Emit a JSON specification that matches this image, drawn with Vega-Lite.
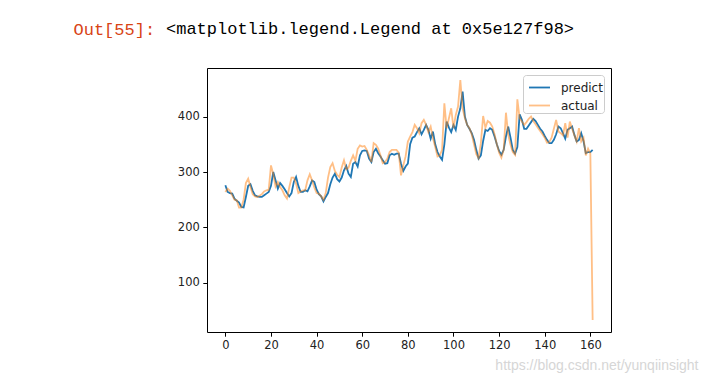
{
 "$schema": "https://vega.github.io/schema/vega-lite/v6.json",
 "width": 404,
 "height": 264,
 "autosize": {"type": "none"},
 "padding": {"left": 207, "top": 68, "right": 97, "bottom": 53},
 "background": "white",
 "title": {
  "text": "<matplotlib.legend.Legend at 0x5e127f98>",
  "anchor": "start",
  "frame": "group",
  "dx": -41,
  "offset": 0,
  "dy": 31,
  "baseline": "alphabetic",
  "font": "Liberation Mono",
  "fontSize": 17,
  "fontWeight": "normal",
  "color": "#000000"
 },
 "data": {"values": [
  {"i":0,"predict":276,"actual":264},{"i":1,"predict":264,"actual":270},{"i":2,"predict":262,"actual":266},{"i":3,"predict":261,"actual":258},
  {"i":4,"predict":252,"actual":250},{"i":5,"predict":248,"actual":249},{"i":6,"predict":245,"actual":236},{"i":7,"predict":237,"actual":236},
  {"i":8,"predict":236,"actual":250},{"i":9,"predict":255,"actual":280},{"i":10,"predict":275,"actual":288},{"i":11,"predict":278,"actual":273},
  {"i":12,"predict":266,"actual":260},{"i":13,"predict":258,"actual":256},{"i":14,"predict":256,"actual":255},{"i":15,"predict":255,"actual":257},
  {"i":16,"predict":255,"actual":260},{"i":17,"predict":258,"actual":265},{"i":18,"predict":261,"actual":267},{"i":19,"predict":264,"actual":268},
  {"i":20,"predict":275,"actual":312},{"i":21,"predict":300,"actual":296},{"i":22,"predict":285,"actual":274},{"i":23,"predict":270,"actual":282},
  {"i":24,"predict":280,"actual":273},{"i":25,"predict":275,"actual":267},{"i":26,"predict":269,"actual":258},{"i":27,"predict":262,"actual":252},
  {"i":28,"predict":256,"actual":272},{"i":29,"predict":262,"actual":290},{"i":30,"predict":282,"actual":290},{"i":31,"predict":291,"actual":279},
  {"i":32,"predict":275,"actual":262},{"i":33,"predict":264,"actual":265},{"i":34,"predict":264,"actual":267},{"i":35,"predict":267,"actual":267},
  {"i":36,"predict":265,"actual":285},{"i":37,"predict":274,"actual":296},{"i":38,"predict":285,"actual":285},{"i":39,"predict":282,"actual":272},
  {"i":40,"predict":268,"actual":262},{"i":41,"predict":260,"actual":261},{"i":42,"predict":256,"actual":256},{"i":43,"predict":247,"actual":250},
  {"i":44,"predict":255,"actual":262},{"i":45,"predict":262,"actual":290},{"i":46,"predict":278,"actual":309},{"i":47,"predict":290,"actual":316},
  {"i":48,"predict":297,"actual":302},{"i":49,"predict":287,"actual":295},{"i":50,"predict":283,"actual":291},{"i":51,"predict":290,"actual":308},
  {"i":52,"predict":303,"actual":321},{"i":53,"predict":311,"actual":305},{"i":54,"predict":297,"actual":308},{"i":55,"predict":291,"actual":320},
  {"i":56,"predict":315,"actual":330},{"i":57,"predict":318,"actual":320},{"i":58,"predict":310,"actual":342},{"i":59,"predict":330,"actual":348},
  {"i":60,"predict":338,"actual":346},{"i":61,"predict":339,"actual":347},{"i":62,"predict":338,"actual":340},{"i":63,"predict":324,"actual":330},
  {"i":64,"predict":318,"actual":318},{"i":65,"predict":336,"actual":352},{"i":66,"predict":342,"actual":349},{"i":67,"predict":334,"actual":342},
  {"i":68,"predict":328,"actual":330},{"i":69,"predict":321,"actual":316},{"i":70,"predict":315,"actual":318},{"i":71,"predict":316,"actual":324},
  {"i":72,"predict":330,"actual":336},{"i":73,"predict":333,"actual":340},{"i":74,"predict":331,"actual":340},{"i":75,"predict":333,"actual":340},
  {"i":76,"predict":333,"actual":335},{"i":77,"predict":315,"actual":294},{"i":78,"predict":302,"actual":312},{"i":79,"predict":310,"actual":328},
  {"i":80,"predict":315,"actual":355},{"i":81,"predict":350,"actual":364},{"i":82,"predict":362,"actual":372},{"i":83,"predict":364,"actual":385},
  {"i":84,"predict":372,"actual":379},{"i":85,"predict":379,"actual":370},{"i":86,"predict":368,"actual":388},{"i":87,"predict":376,"actual":394},
  {"i":88,"predict":385,"actual":385},{"i":89,"predict":376,"actual":372},{"i":90,"predict":360,"actual":382},{"i":91,"predict":373,"actual":361},
  {"i":92,"predict":350,"actual":345},{"i":93,"predict":336,"actual":328},{"i":94,"predict":328,"actual":330},{"i":95,"predict":322,"actual":340},
  {"i":96,"predict":350,"actual":424},{"i":97,"predict":391,"actual":379},{"i":98,"predict":380,"actual":397},{"i":99,"predict":372,"actual":415},
  {"i":100,"predict":385,"actual":379},{"i":101,"predict":376,"actual":403},{"i":102,"predict":400,"actual":418},{"i":103,"predict":415,"actual":466},
  {"i":104,"predict":445,"actual":415},{"i":105,"predict":400,"actual":397},{"i":106,"predict":385,"actual":385},{"i":107,"predict":378,"actual":379},
  {"i":108,"predict":370,"actual":368},{"i":109,"predict":358,"actual":350},{"i":110,"predict":340,"actual":332},{"i":111,"predict":324,"actual":325},
  {"i":112,"predict":330,"actual":352},{"i":113,"predict":356,"actual":401},{"i":114,"predict":376,"actual":380},{"i":115,"predict":374,"actual":392},
  {"i":116,"predict":379,"actual":389},{"i":117,"predict":376,"actual":382},{"i":118,"predict":364,"actual":368},{"i":119,"predict":350,"actual":350},
  {"i":120,"predict":338,"actual":335},{"i":121,"predict":331,"actual":326},{"i":122,"predict":340,"actual":340},{"i":123,"predict":364,"actual":407},
  {"i":124,"predict":382,"actual":367},{"i":125,"predict":362,"actual":349},{"i":126,"predict":340,"actual":336},{"i":127,"predict":333,"actual":331},
  {"i":128,"predict":345,"actual":431},{"i":129,"predict":404,"actual":397},{"i":130,"predict":394,"actual":391},{"i":131,"predict":378,"actual":385},
  {"i":132,"predict":378,"actual":390},{"i":133,"predict":384,"actual":396},{"i":134,"predict":390,"actual":400},{"i":135,"predict":396,"actual":392},
  {"i":136,"predict":392,"actual":386},{"i":137,"predict":385,"actual":380},{"i":138,"predict":378,"actual":374},{"i":139,"predict":373,"actual":368},
  {"i":140,"predict":365,"actual":362},{"i":141,"predict":358,"actual":353},{"i":142,"predict":352,"actual":354},{"i":143,"predict":352,"actual":362},
  {"i":144,"predict":358,"actual":378},{"i":145,"predict":368,"actual":394},{"i":146,"predict":382,"actual":373},{"i":147,"predict":379,"actual":370},
  {"i":148,"predict":370,"actual":366},{"i":149,"predict":360,"actual":388},{"i":150,"predict":376,"actual":362},{"i":151,"predict":379,"actual":391},
  {"i":152,"predict":382,"actual":378},{"i":153,"predict":367,"actual":366},{"i":154,"predict":355,"actual":355},{"i":155,"predict":358,"actual":379},
  {"i":156,"predict":370,"actual":355},{"i":157,"predict":356,"actual":362},{"i":158,"predict":334,"actual":330},{"i":159,"predict":336,"actual":342},
  {"i":160,"predict":336,"actual":333},{"i":161,"predict":340,"actual":33}
 ]},
 "transform": [{"fold": ["predict", "actual"], "as": ["series", "value"]}],
 "encoding": {
  "x": {
   "field": "i", "type": "quantitative",
   "scale": {"domain": [-8.05, 169.05], "nice": false, "zero": false},
   "axis": {
    "values": [0, 20, 40, 60, 80, 100, 120, 140, 160],
    "title": "https://blog.csdn.net/yunqiinsight",
    "titleFont": "Liberation Sans",
    "titleFontSize": 14,
    "titleFontWeight": "normal",
    "titleColor": "#d6d6d6",
    "titleAlign": "right",
    "titleAnchor": "end",
    "titleBaseline": "middle",
    "titleX": 491,
    "titleY": 33
   }
  },
  "y": {
   "field": "value", "type": "quantitative",
   "scale": {"domain": [11.35, 487.65], "nice": false, "zero": false},
   "axis": {
    "values": [100, 200, 300, 400],
    "title": "Out[55]:",
    "titleFont": "Liberation Mono",
    "titleFontSize": 17,
    "titleFontWeight": "normal",
    "titleColor": "#D84315",
    "titleAngle": 0,
    "titleAlign": "left",
    "titleBaseline": "alphabetic",
    "titleX": -134,
    "titleY": -34
   }
  },
  "color": {
   "field": "series", "type": "nominal",
   "scale": {"domain": ["predict", "actual"], "range": ["#1f77b4", "rgba(255,127,14,0.5)"]},
   "legend": {
    "title": null,
    "orient": "top-right",
    "offset": 7,
    "symbolType": "stroke",
    "symbolSize": 441,
    "symbolStrokeWidth": 1.8,
    "symbolOffset": 4,
    "labelFont": "DejaVu Sans",
    "labelFontSize": 12,
    "labelColor": "#222",
    "labelOffset": 10,
    "rowPadding": -4,
    "padding": 1,
    "fillColor": "rgba(255,255,255,0.8)",
    "strokeColor": "#cccccc",
    "cornerRadius": 3
   }
  }
 },
 "layer": [
  {"transform": [{"filter": "datum.series === 'predict'"}], "mark": {"type": "line", "strokeWidth": 1.8}},
  {"transform": [{"filter": "datum.series === 'actual'"}], "mark": {"type": "line", "strokeWidth": 1.8}}
 ],
 "config": {
  "view": {"stroke": "#000000", "strokeWidth": 1},
  "axis": {
   "domain": false,
   "grid": false,
   "ticks": true,
   "tickColor": "#000000",
   "tickSize": 4.2,
   "tickWidth": 1,
   "labelFont": "DejaVu Sans",
   "labelFontSize": 11.5,
   "labelColor": "#222222",
   "labelPadding": 3.5
  }
 }
}
